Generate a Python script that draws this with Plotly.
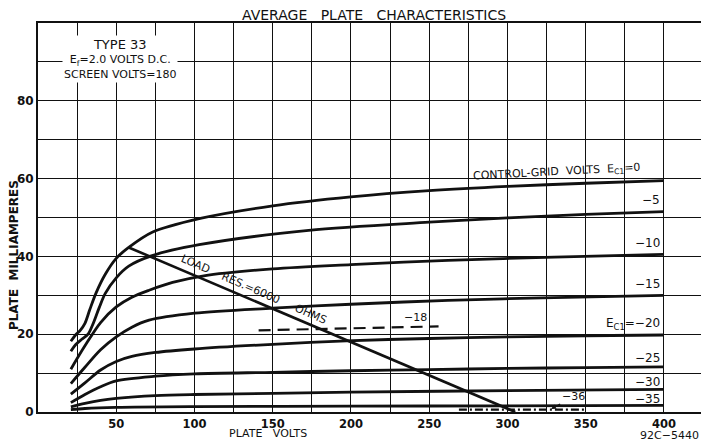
import plotly.graph_objects as go

# ---- data (plate volts, plate milliamperes) ----
v_e0 = [21, 24, 27, 30, 33, 37, 43, 50, 58, 73, 103, 150, 200, 250, 300, 350, 400]
i_e0 = [18.2, 19.8, 21, 22.8, 26.2, 30.5, 35.4, 39.5, 42.3, 46.2, 49.7, 53, 55.3, 56.9, 58, 58.8, 59.5]

v_m5 = [21, 24, 28, 32, 35, 39, 43, 50, 58, 73, 103, 173, 250, 300, 350, 400]
i_m5 = [15.6, 17.3, 18.7, 20, 22.5, 26.7, 30.5, 34.5, 37.5, 40.2, 43, 46.7, 48.8, 49.9, 50.8, 51.5]

v_m10 = [21, 30, 40, 50, 60, 71, 86, 106, 150, 200, 262, 330, 400]
i_m10 = [11, 17, 23, 27, 29.5, 31.3, 33.3, 35, 36.8, 37.9, 39, 39.8, 40.5]

v_m15 = [21, 30, 40, 50, 60, 71, 100, 150, 200, 262, 330, 400]
i_m15 = [7.3, 11.5, 16, 19.3, 21.8, 23.6, 25.4, 26.7, 27.7, 28.7, 29.4, 30]

v_m20 = [21, 30, 40, 50, 60, 75, 100, 150, 197, 250, 300, 350, 400]
i_m20 = [4.6, 7.5, 10.8, 13, 14.3, 15.3, 16.2, 17.4, 18.3, 18.9, 19.3, 19.6, 19.8]

v_m25 = [21, 30, 40, 50, 75, 100, 150, 200, 250, 300, 350, 400]
i_m25 = [2.4, 4.5, 6.5, 8, 9.2, 9.8, 10.2, 10.6, 10.9, 11.2, 11.4, 11.6]

v_m30 = [21, 30, 40, 50, 75, 100, 150, 200, 300, 400]
i_m30 = [1.3, 2.2, 3.0, 3.5, 4.2, 4.5, 4.8, 5.1, 5.5, 5.8]

v_m35 = [21, 30, 50, 100, 200, 300, 400]
i_m35 = [0.6, 0.9, 1.2, 1.4, 1.5, 1.6, 1.7]

v_m18 = [141, 256]
i_m18 = [21, 22]

v_m36 = [269, 350]
i_m36 = [0.6, 0.6]

v_load = [58, 305]
i_load = [42.3, 0]

x_ticks = [50, 100, 150, 200, 250, 300, 350, 400]
x_labels = ["50", "100", "150", "200", "250", "300", "350", "400"]
y_ticks = [0, 20, 40, 60, 80]
y_labels = ["0", "20", "40", "60", "80"]

FONT = "DejaVu Sans"
INK = "#111111"

# page has an 8px body margin; compensate so the plot lands where the reference has it
OFF = 8
W, H = 701, 433
ml, mr, mt, mb = 30, 4, 15, 29
pw, ph = W - ml - mr, H - mt - mb


def px(xp):
    return (xp - OFF - ml) / pw


def py(yp):
    return (H - mb - (yp - OFF)) / ph


fig = go.Figure()

solid = [(v_e0, i_e0), (v_m5, i_m5), (v_m10, i_m10), (v_m15, i_m15),
         (v_m20, i_m20), (v_m25, i_m25), (v_m30, i_m30), (v_m35, i_m35)]
for vx, iy in solid:
    fig.add_trace(go.Scatter(x=vx, y=iy, mode="lines",
                             line=dict(color=INK, width=2.8, shape="spline", smoothing=0.9),
                             showlegend=False, hoverinfo="skip"))

fig.add_trace(go.Scatter(x=v_load, y=i_load, mode="lines",
                         line=dict(color=INK, width=2.6), showlegend=False, hoverinfo="skip"))
fig.add_trace(go.Scatter(x=v_m18, y=i_m18, mode="lines",
                         line=dict(color=INK, width=2.2, dash="12px,7px"), showlegend=False, hoverinfo="skip"))
fig.add_trace(go.Scatter(x=v_m36, y=i_m36, mode="lines",
                         line=dict(color=INK, width=2.2, dash="8px,3px,2px,3px"), showlegend=False, hoverinfo="skip"))

# curve labels on the right
right_labels = [("−5", 54.6), ("−10", 43.5), ("−15", 33.0), ("E<sub>C1</sub>=−20", 22.6),
                ("−25", 14.0), ("−30", 7.7), ("−35", 3.4)]
for txt, yy in right_labels:
    fig.add_annotation(x=399, y=yy, xref="x", yref="y", text=txt, showarrow=False,
                       xanchor="right", yanchor="middle",
                       font=dict(family=FONT, size=12, color=INK))

fig.add_annotation(x=332, y=61.8, xref="x", yref="y",
                   text="CONTROL-GRID  VOLTS  E<sub>C1</sub>=0", showarrow=False,
                   textangle=-3, font=dict(family=FONT, size=11, color=INK))
fig.add_annotation(x=241, y=24.4, xref="x", yref="y", text="−18", showarrow=False,
                   font=dict(family=FONT, size=11, color=INK))
fig.add_annotation(x=328, y=0.8, xref="x", yref="y", text="−36", showarrow=True,
                   arrowhead=2, arrowsize=0.8, arrowwidth=1.2, arrowcolor=INK,
                   ax=22, ay=-12, font=dict(family=FONT, size=11, color=INK))
fig.add_annotation(x=138, y=31.4, xref="x", yref="y",
                   text="LOAD    RES.=6000     OHMS", showarrow=False, textangle=23.5,
                   font=dict(family=FONT, size=11, color=INK))

# top-left info block
fig.add_annotation(x=px(120), y=py(59), xref="paper", yref="paper",
                   xanchor="center", yanchor="middle",
                   text="<span style='font-size:13px'>TYPE 33</span><br>E<sub>f</sub>=2.0 VOLTS D.C.<br>SCREEN VOLTS=180",
                   showarrow=False, bgcolor="white", borderpad=1,
                   font=dict(family=FONT, size=11, color=INK))

fig.add_annotation(x=px(375), y=py(14.5), xref="paper", yref="paper", showarrow=False,
                   xanchor="center", yanchor="middle",
                   text="AVERAGE   PLATE   CHARACTERISTICS",
                   font=dict(family=FONT, size=14, color=INK))
fig.add_annotation(x=px(269), y=py(434), xref="paper", yref="paper", showarrow=False,
                   xanchor="center", yanchor="middle",
                   text="PLATE   VOLTS", font=dict(family=FONT, size=11, color=INK))
fig.add_annotation(x=px(671), y=py(435), xref="paper", yref="paper", showarrow=False,
                   xanchor="center", yanchor="middle",
                   text="92C−5440", font=dict(family=FONT, size=11, color=INK))
fig.add_annotation(x=px(14), y=py(255), xref="paper", yref="paper", showarrow=False,
                   xanchor="center", yanchor="middle",
                   text="<b>PLATE  MILLIAMPERES</b>", textangle=-90,
                   font=dict(family=FONT, size=12, color=INK))

fig.update_xaxes(range=[0, 425], tickmode="array", tickvals=x_ticks, ticktext=x_labels,
                 showgrid=True, gridcolor=INK, gridwidth=1, zeroline=False,
                 minor=dict(tick0=0, dtick=25, showgrid=True, gridcolor=INK, gridwidth=1),
                 showline=True, mirror=True, linecolor=INK, linewidth=2,
                 ticks="", ticklen=0,
                 tickfont=dict(family=FONT, size=11.5, color=INK, weight="bold"),
                 fixedrange=True)
fig.update_yaxes(range=[0, 100], tickmode="array", tickvals=y_ticks, ticktext=y_labels,
                 showgrid=True, gridcolor=INK, gridwidth=1, zeroline=False,
                 minor=dict(tick0=0, dtick=10, showgrid=True, gridcolor=INK, gridwidth=1),
                 showline=True, mirror=True, linecolor=INK, linewidth=2,
                 ticks="", ticklen=0,
                 tickfont=dict(family=FONT, size=12, color=INK, weight="bold"),
                 fixedrange=True)

fig.update_layout(width=W, height=H, autosize=False,
                  margin=dict(l=ml, r=mr, t=mt, b=mb, pad=0),
                  paper_bgcolor="white", plot_bgcolor="white", showlegend=False)

fig.write_html("out.html")
